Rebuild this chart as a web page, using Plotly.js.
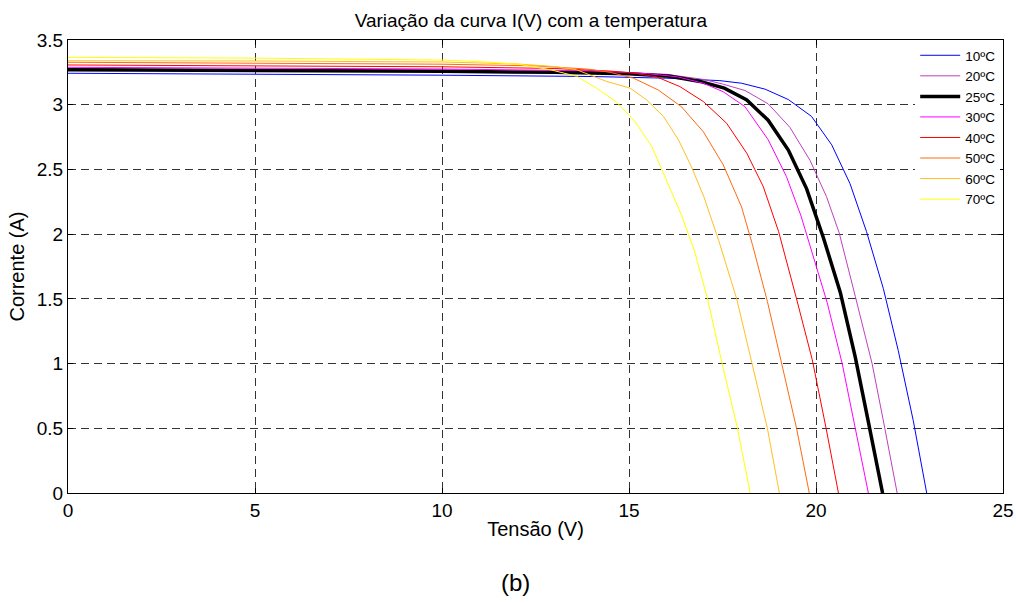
<!DOCTYPE html>
<html>
<head>
<meta charset="utf-8">
<script src="https://cdn.plot.ly/plotly-3.0.1.min.js"></script>
<style>html,body{margin:0;padding:0;background:#fff;}#chart{width:1016px;height:603px;}</style>
</head>
<body>
<div id="chart"></div>
<script>
// Series labels
const labels = ["10ºC", "20ºC", "25ºC", "30ºC", "40ºC", "50ºC", "60ºC", "70ºC"];

// Voltage (V) and current (A) values
const v10 = [0, 5, 10, 14, 16, 17.43, 18.01, 18.64, 19.26, 19.88, 20.42, 20.91, 21.35, 21.8, 22.2, 22.6, 22.96];
const i10 = [3.243, 3.238, 3.228, 3.218, 3.205, 3.186, 3.166, 3.12, 3.04, 2.91, 2.69, 2.39, 2.02, 1.58, 1.1, 0.56, 0];

const v20 = [0, 5, 10, 14, 16, 17.0, 17.5, 18.1, 18.72, 19.3, 19.84, 20.28, 20.62, 21.05, 21.5, 21.84, 22.17];
const i20 = [3.276, 3.272, 3.265, 3.255, 3.235, 3.195, 3.16, 3.11, 3.007, 2.826, 2.57, 2.29, 2.01, 1.52, 1.0, 0.5, 0];

const v25 = [0, 5, 10, 13, 15, 16.1, 16.9, 17.55, 18.15, 18.72, 19.26, 19.75, 20.2, 20.65, 21.05, 21.42, 21.78];
const i25 = [3.27, 3.265, 3.258, 3.25, 3.24, 3.22, 3.18, 3.128, 3.037, 2.88, 2.65, 2.35, 1.97, 1.55, 1.05, 0.52, 0];

const v30 = [0, 5, 10, 14, 15.5, 16.3, 16.99, 17.52, 18.1, 18.72, 19.21, 19.6, 19.95, 20.3, 20.7, 21.05, 21.40];
const i30 = [3.289, 3.284, 3.276, 3.262, 3.24, 3.215, 3.166, 3.10, 2.985, 2.73, 2.445, 2.14, 1.8, 1.47, 1.0, 0.5, 0];

const v40 = [0, 5, 10, 13, 14.5, 15.1, 15.74, 16.36, 16.99, 17.61, 18.15, 18.59, 19.0, 19.48, 19.9, 20.27, 20.6];
const i40 = [3.307, 3.302, 3.293, 3.28, 3.26, 3.245, 3.215, 3.14, 3.024, 2.857, 2.625, 2.367, 2.02, 1.5, 1.03, 0.5, 0];

const v50 = [0, 5, 10, 12.5, 13.9, 14.5, 15.12, 15.78, 16.4, 16.99, 17.52, 18.01, 18.3, 18.7, 19.1, 19.48, 19.82];
const i50 = [3.328, 3.323, 3.313, 3.3, 3.275, 3.25, 3.205, 3.114, 2.985, 2.79, 2.535, 2.21, 1.92, 1.48, 0.98, 0.5, 0];

const v60 = [0, 5, 10, 12, 13, 13.6, 14.4, 15.03, 15.47, 15.92, 16.32, 16.67, 17.0, 17.4, 17.88, 18.3, 18.7, 19.02];
const i60 = [3.34, 3.338, 3.33, 3.315, 3.295, 3.27, 3.18, 3.128, 3.037, 2.91, 2.73, 2.52, 2.29, 1.95, 1.5, 1.0, 0.5, 0];

const v70 = [0, 5, 10, 11.2, 12.1, 12.9, 13.6, 14.13, 14.67, 15.16, 15.61, 16.0, 16.4, 16.75, 17.1, 17.49, 17.9, 18.24];
const i70 = [3.366, 3.36, 3.345, 3.33, 3.31, 3.27, 3.22, 3.128, 3.02, 2.87, 2.677, 2.42, 2.15, 1.87, 1.5, 1.0, 0.5, 0];

const xs = [v10, v20, v25, v30, v40, v50, v60, v70];
const ys = [i10, i20, i25, i30, i40, i50, i60, i70];
const colors = ["#0000ff", "#bf3fbf", "#000000", "#ff00ff", "#ff0000", "#ff6a10", "#ffbf20", "#ffff00"];
const widths = [1, 1, 3.5, 1, 1, 1, 1, 1];

const traces = labels.map((name, k) => ({
  x: xs[k], y: ys[k], name: name, type: "scatter", mode: "lines",
  line: {color: colors[k], width: widths[k]}
}));

const font = {family: "Liberation Sans, Arial, sans-serif", color: "#000"};

const layout = {
  width: 1016, height: 603,
  margin: {l: 68, r: 13, t: 40, b: 110},
  paper_bgcolor: "#fff", plot_bgcolor: "#fff",
  font: Object.assign({size: 19}, font),
  showlegend: true,
  title: {text: "Variação da curva I(V) com a temperatura", font: Object.assign({size: 19}, font),
          x: 0.495, xref: "paper", xanchor: "center", y: 0.966, yanchor: "middle", yref: "container"},
  xaxis: {
    range: [0, 25], tickvals: [0, 5, 10, 15, 20, 25], ticktext: ["0", "5", "10", "15", "20", "25"],
    showline: true, mirror: "ticks", linecolor: "#000", linewidth: 1,
    ticks: "inside", ticklen: 5, tickcolor: "#000",
    showgrid: true, gridcolor: "#333", griddash: "8px,5px", gridwidth: 1, zeroline: false,
    tickfont: Object.assign({size: 19}, font),
    title: {text: "Tensão (V)", font: Object.assign({size: 20}, font), standoff: 2}
  },
  yaxis: {
    range: [0, 3.5], tickvals: [0, 0.5, 1, 1.5, 2, 2.5, 3, 3.5],
    ticktext: ["0", "0.5", "1", "1.5", "2", "2.5", "3", "3.5"],
    showline: true, mirror: "ticks", linecolor: "#000", linewidth: 1,
    ticks: "inside", ticklen: 5, tickcolor: "#000",
    showgrid: true, gridcolor: "#333", griddash: "8px,5px", gridwidth: 1, zeroline: false,
    tickfont: Object.assign({size: 19}, font),
    title: {text: "Corrente (A)", font: Object.assign({size: 20}, font), standoff: 6}
  },
  legend: {
    x: 0.997, xanchor: "right", y: 1, yanchor: "top",
    bgcolor: "#fff", borderwidth: 0,
    font: Object.assign({size: 13.5}, font),
    tracegroupgap: 0, itemwidth: 40
  },
  annotations: [{
    text: "(b)", xref: "paper", yref: "paper", x: 0.479, y: (493 - 582) / 453,
    xanchor: "center", yanchor: "middle", showarrow: false,
    font: Object.assign({size: 24}, font)
  }]
};

Plotly.newPlot("chart", traces, layout, {displayModeBar: false, staticPlot: true});
</script>
</body>
</html>
